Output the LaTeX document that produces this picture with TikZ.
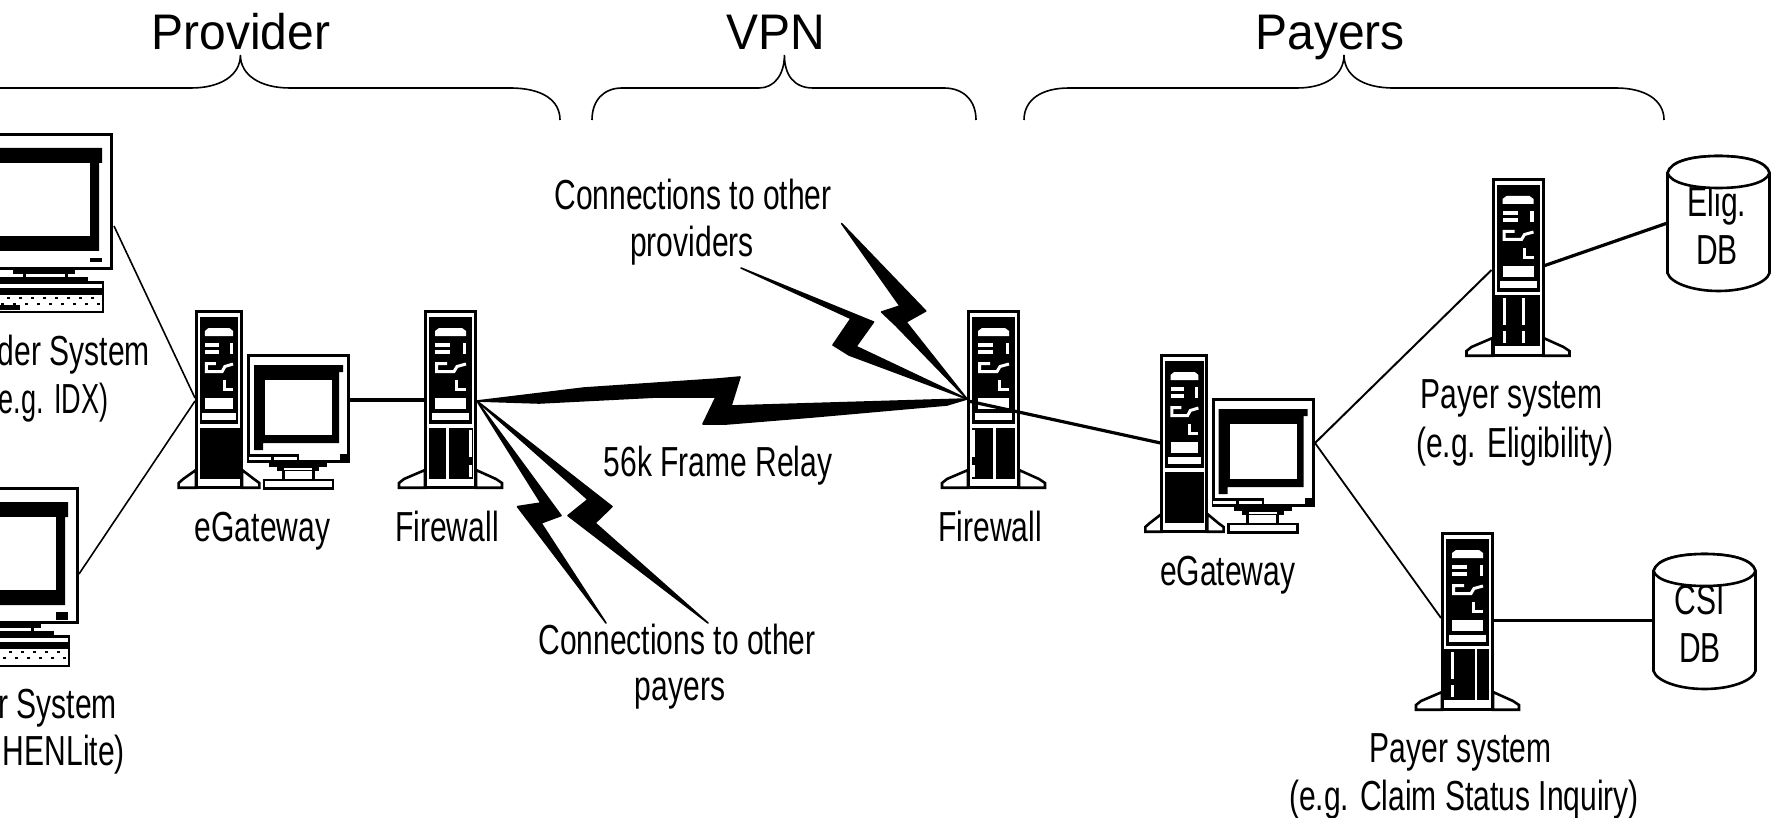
\documentclass[tikz,border=0pt]{standalone}
\usepackage{fontspec}
\setmainfont{Liberation Sans}
\newfontfamily\labfont[FakeStretch=0.715]{Liberation Sans}
\newfontfamily\labtight[FakeStretch=0.645]{Liberation Sans}
\newfontfamily\headfont[FakeStretch=0.96]{Liberation Sans}
\tikzset{
  lab/.style={inner sep=0pt,anchor=base,font=\labfont\fontsize{42}{42}\selectfont},
  labr/.style={inner sep=0pt,anchor=base east,font=\labfont\fontsize{42}{42}\selectfont},
  labt/.style={inner sep=0pt,anchor=base east,font=\labtight\fontsize{42}{42}\selectfont},
  head/.style={inner sep=0pt,anchor=base,font=\headfont\fontsize{50}{50}\selectfont},
  devline/.style={draw=black,line width=3pt,fill=white,line join=miter},
  thinwire/.style={draw=black,line width=1.6pt},
  wire/.style={draw=black,line width=3.2pt},
  bracket/.style={draw=black,line width=1.6pt},
  bolt/.style={fill=black,draw=black,line width=1.6pt,line join=round},
  whitestroke/.style={draw=white,line width=3pt,line join=miter},
}
% tower: #1 = x, #2 = y, #3 = xscale, #4 = foot width, #5 = lower section
\newcommand{\towerdev}[5]{%
 \begin{scope}[shift={(#1,#2)},xscale=#3]
  \path[devline,line width=2.6pt] (1,160) -- (-#4+6,169) -- (-#4+1,173) -- (-#4+1,177.7) -- (1,177.7) -- cycle;
  \path[devline,line width=2.6pt] (52,160) -- (52+#4-6,169) -- (52+#4,173) -- (52+#4,177.7) -- (52,177.7) -- cycle;
  \path[devline] (1.5,1.5) rectangle (51.5,177.5);
  \fill[black] (5,7) rectangle (48,114);
  \fill[white] (11,26) -- (11,21) -- (15,18) -- (38,18) -- (42,21) -- (42,26) -- cycle;
  \fill[white] (11,33) rectangle (26,37);
  \fill[white] (11,40) rectangle (26,44);
  \fill[white] (38.5,33) rectangle (42,44);
  \path[whitestroke] (23,53.5) -- (12.5,53.5) -- (12.5,61.5) -- (30,61.5) -- (33,56.5) -- (42,54);
  \path[whitestroke] (32.5,70) -- (32.5,79.5) -- (42,79.5);
  \fill[white] (11,88) rectangle (42,99);
  \fill[white] (8,103) rectangle (45,110);
  #5
 \end{scope}}
% small monitor with its base
\newcommand{\monitordev}[2]{%
 \begin{scope}[shift={(#1,#2)}]
  \path[devline,line width=2.6pt] (17,126) rectangle (86,134.5);
  \fill[black] (22,109) rectangle (80,113);
  \fill[black] (30,113) rectangle (72,117);
  \fill[black] (34.5,117) rectangle (37.5,126);
  \fill[black] (64.5,117) rectangle (67.5,126);
  \fill[white] (37,113.5) rectangle (65,116);
  \path[devline] (1.5,1.5) rectangle (101.5,107.5);
  \fill[black] (7,11) -- (96,11) -- (96,18) -- (92,18) -- (92,89) -- (16,89) -- (16,96) -- (7,96) -- cycle;
  \fill[white] (18,26) rectangle (85,81);
  \fill[black] (0,100) rectangle (52,109);
  \fill[black] (93,100) rectangle (103,109);
  \fill[white] (1.5,102.5) rectangle (24,106);
  \fill[white] (27,102.5) rectangle (50,106);
 \end{scope}}
% large monitor with keyboard, origin at its top right corner
\newcommand{\bigmonitor}[3]{%
 \begin{scope}[shift={(#1,#2)}]
  \path[devline] (-170,1.5) rectangle (-1.5,135.5);
  \fill[black] (-150,15) -- (-11,15) -- (-11,30) -- (-14,30) -- (-14,118) -- (-150,118) -- cycle;
  \fill[white] (-140,30) rectangle (-23,103);
  \fill[black] #3;
  \fill[black] (-100,137) rectangle (-38,140.5);
  \fill[black] (-90,140) rectangle (-87,144);
  \fill[black] (-48,140) rectangle (-45,144);
  \fill[black] (-130,144) rectangle (-25,148.5);
  \path[devline,line width=2.6pt] (-130,149.3) rectangle (-10,179);
  \fill[black] (-130,155) rectangle (-10,162);
  \draw[black,line width=2.6pt,dash pattern=on 3pt off 9pt] (-130,165) -- (-11,165);
  \draw[black,line width=2.6pt,dash pattern=on 3pt off 9pt,dash phase=6pt] (-130,171) -- (-11,171);
  \fill[black] (-130,172) rectangle (-93,177);
 \end{scope}}
% database body
\newcommand{\dbbody}[2]{%
 \begin{scope}[shift={(#1,#2)}]
  \path[devline,line width=2.6pt] (0,17) -- (0,117) .. controls (3,127) and (25,135) .. (51,135) .. controls (77,135) and (99,127) .. (102,117) -- (102,17) .. controls (99,5) and (77,0) .. (51,0) .. controls (25,0) and (3,5) .. (0,17) -- cycle;
 \end{scope}}
\newcommand{\dbcap}[2]{%
 \begin{scope}[shift={(#1,#2)}]
  \path[devline,line width=2.6pt] (0,17) .. controls (3,27) and (25,32) .. (51,32) .. controls (77,32) and (99,27) .. (102,17) .. controls (99,5) and (77,0) .. (51,0) .. controls (25,0) and (3,5) .. (0,17) -- cycle;
 \end{scope}}
\begin{document}
\begin{tikzpicture}[x=1pt,y=-1pt]
\useasboundingbox (0,0) rectangle (1776,818);
\clip (0,0) rectangle (1776,818);
\fill[white] (0,0) rectangle (1776,818);

% headings and braces
\node[head] (hprovider) at (241,49.5) {Provider};
\node[head] (hvpn) at (776,49.5) {VPN};
\node[head] (hpayers) at (1330,49.5) {Payers};
\draw[bracket] (-10,88) -- (191,88) .. controls (221,88) and (240.4,75) .. (240.4,55) .. controls (240.4,75) and (260,88) .. (290,88) -- (510,88) .. controls (542,88) and (560,100) .. (560,120);
\draw[bracket] (592,120) .. controls (592,100) and (604,88) .. (622,88) -- (759,88) .. controls (774,88) and (784.4,75) .. (784.4,55) .. controls (784.4,75) and (794,88) .. (813,88) -- (944,88) .. controls (963,88) and (976,100) .. (976,120);
\draw[bracket] (1024,120) .. controls (1024,100) and (1041,88) .. (1069,88) -- (1297,88) .. controls (1326,88) and (1344,75) .. (1344,55) .. controls (1344,75) and (1362,88) .. (1393.6,88) -- (1616,88) .. controls (1645,88) and (1664,100) .. (1664,120);

% left systems
\bigmonitor{113}{133}{(-23,125) rectangle (-11,129)}
\bigmonitor{79}{487}{(-23,125) rectangle (-11,133)}
\node[labr] (lp1a) at (150,365) {der System};
\node[labt] (lp1b) at (108.5,413) {e.g. IDX)};
\node[labr] (lp2a) at (117,718) {r System};
\node[labr] (lp2b) at (125,765) {HENLite)};

% eGateway 1
\towerdev{195}{310}{0.906}{19}{\fill[black] (5,118) rectangle (52,169);}
\monitordev{247}{354}
% firewall 1
\towerdev{424}{310}{1}{26}{\fill[black] (5,118) rectangle (22,169);\fill[black] (25,118) rectangle (49,169);\fill[white] (45,120) rectangle (48,147);\fill[white] (45,155) rectangle (48,167);}
% firewall 2
\towerdev{967}{310}{1}{26}{\fill[black] (5,118) rectangle (26,169);\fill[black] (29,118) rectangle (48,169);\fill[white] (4.5,120) rectangle (7.5,147);\fill[white] (4.5,155) rectangle (7.5,167);}
% eGateway 2
\towerdev{1160.6}{354}{0.9}{18}{\fill[black] (5,118) rectangle (48,169);}
\monitordev{1211.5}{398}
% payer 1
\towerdev{1491.5}{178}{1}{26}{\fill[black] (0,117) rectangle (48,168);\fill[white] (11,120) rectangle (14,147);\fill[white] (11,153) rectangle (14,165);\fill[white] (30,120) rectangle (33,147);\fill[white] (30,153) rectangle (33,165);}
% payer 2
\towerdev{1441}{532}{1}{26}{\fill[black] (0,117) rectangle (48,168);\fill[white] (10,120) rectangle (13,147);\fill[white] (10,153) rectangle (13,165);\fill[white] (34,117) rectangle (36,168);}

% databases
\dbbody{1667.5}{156}
\dbbody{1653.5}{554}
\node[lab] (dbe1) at (1717,217) {Elig.};
\node[lab] (dbe2) at (1717,265) {DB};
\node[lab] (dbc1) at (1700,614) {CSI};
\node[lab] (dbc2) at (1700,662) {DB};
\dbcap{1667.5}{156}
\dbcap{1653.5}{554}

% device labels
\node[lab] (lg1) at (262.5,541) {eGateway};
\node[lab] (lf1) at (447,541) {Firewall};
\node[lab] (lf2) at (990,541) {Firewall};
\node[lab] (lg2) at (1227.7,585) {eGateway};
\node[lab] (lpa1) at (1511.6,408) {Payer system};
\node[lab] (lpa2) at (1515,457) {(e.g. Eligibility)};
\node[lab] (lpb1) at (1460.6,762) {Payer system};
\node[lab] (lpb2) at (1464,810) {(e.g. Claim Status Inquiry)};
\node[lab] (lcp1) at (693,210) {Connections to other};
\node[lab] (lcp2) at (692,256) {providers};
\node[lab] (lrelay) at (718,476) {56k Frame Relay};
\node[lab] (lcq1) at (677,654) {Connections to other};
\node[lab] (lcq2) at (680,700) {payers};

% connection points
\coordinate (m1p) at (114,226);
\coordinate (m2p) at (79,574);
\coordinate (g1a) at (195,398);
\coordinate (g1b) at (195,401);
\coordinate (g1r) at (350,400);
\coordinate (f1l) at (424,400);
\coordinate (f1r) at (477,401);
\coordinate (f2l) at (967,399);
\coordinate (f2w) at (968,401);
\coordinate (g2l) at (1160.6,443);
\coordinate (g2r) at (1315,443);
\coordinate (p1l) at (1491.5,270);
\coordinate (p1r) at (1543.4,266);
\coordinate (p2l) at (1441,618);
\coordinate (p2r) at (1493,620.5);
\coordinate (d1l) at (1667.5,223);
\coordinate (d2l) at (1653.5,620.5);

% wires
\draw[thinwire] (m1p) -- (g1a);
\draw[thinwire] (m2p) -- (g1b);
\draw[wire] (g1r) -- (f1l);
\draw[wire] (f2w) -- (g2l);
\draw[thinwire,line width=2pt] (g2r) -- (p1l);
\draw[thinwire,line width=1.8pt] (g2r) -- (p2l);
\draw[wire] (p1r) -- (d1l);
\draw[wire] (p2r) -- (d2l);

% lightning links
\path[bolt] (f1r) -- (584,388) -- (718,379) -- (740,377) -- (731,406) -- (f2l) -- (947,405) -- (812,417) -- (726.5,424) -- (703,424) -- (716,397) -- (657,397) -- (539,403) -- cycle;
\path[bolt] (741,268) -- (873.5,322) -- (856,346.5) -- (f2l) -- (849,355) -- (833,345) -- (851,318.5) -- cycle;
\path[bolt] (841.6,223.5) -- (925.7,311) -- (906,322) -- (f2l) -- (896,325.6) -- (881.6,312) -- (900,306) -- cycle;
\path[bolt] (f1r) -- (612,506.6) -- (595,523) -- (708,623) -- (568,515.6) -- (588,499.5) -- cycle;
\path[bolt] (f1r) -- (561,515.6) -- (541,523) -- (606,623) -- (517.5,506.6) -- (541,503) -- cycle;
\end{tikzpicture}
\end{document}
